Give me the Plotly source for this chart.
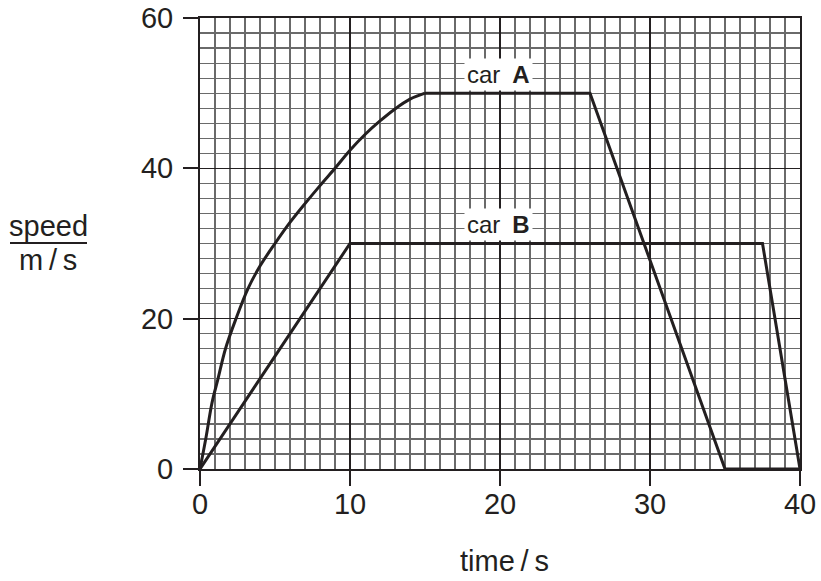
import plotly.graph_objects as go

# Car A: curved acceleration phase
a_curve_t = [0, 0.4, 0.8, 1.2, 1.7, 2.4, 3.2, 4, 5, 6, 7, 8, 9, 10, 11, 12, 13, 14, 15]
a_curve_v = [0, 4.2, 8.8, 12, 16, 20, 24, 27, 30, 32.8, 35.3, 37.7, 40, 42.4, 44.5, 46.3, 47.9, 49.2, 50]
# Car A: straight-line phases
a_line_t = [15, 26, 35, 40]
a_line_v = [50, 50, 0, 0]
# Car B
b_t = [0, 10, 37.5, 40]
b_v = [0, 30, 30, 0]

x_ticks = [0, 10, 20, 30, 40]
y_ticks = [0, 20, 40, 60]

INK = "#231f20"
FONT = "Liberation Sans, Arial, Helvetica, sans-serif"

# plot area target: x 200..800, y 18..469 in the window
L, T, PW, PH = 200, 18, 600, 451
W, H = 821, 581

def px_x(px):
    return (px - L) / PW

def px_y(py):
    return (T + PH - py) / PH

fig = go.Figure()
fig.add_trace(go.Scatter(x=a_curve_t, y=a_curve_v, mode="lines",
                         line=dict(color=INK, width=3, shape="spline", smoothing=1.0),
                         hoverinfo="skip", showlegend=False))
fig.add_trace(go.Scatter(x=a_line_t, y=a_line_v, mode="lines",
                         line=dict(color=INK, width=3),
                         hoverinfo="skip", showlegend=False))
fig.add_trace(go.Scatter(x=b_t, y=b_v, mode="lines",
                         line=dict(color=INK, width=3),
                         hoverinfo="skip", showlegend=False))

axis_common = dict(
    showline=True, linecolor=INK, linewidth=2, mirror=True,
    ticks="outside", ticklen=15, tickwidth=2, tickcolor=INK,
    tickfont=dict(family=FONT, size=29, color=INK),
    showgrid=True, gridcolor=INK, gridwidth=1.6,
    zeroline=False, fixedrange=True, automargin=False,
    tickmode="array", ticklabeloverflow="allow",
)

fig.update_xaxes(range=[0, 40], tickvals=x_ticks, ticktext=[str(v) for v in x_ticks],
                 minor=dict(tickmode="linear", tick0=0, dtick=1, showgrid=True,
                            gridcolor="#6a6a6a", gridwidth=1.2, ticks=""),
                 ticklabelstandoff=-7,
                 **axis_common)
fig.update_yaxes(range=[0, 60], tickvals=y_ticks, ticktext=[str(v) for v in y_ticks],
                 minor=dict(tickmode="linear", tick0=0, dtick=2, showgrid=True,
                            gridcolor="#6a6a6a", gridwidth=1.2, ticks=""),
                 ticklabelstandoff=4,
                 **axis_common)

fig.add_annotation(x=19.9, y=50, yshift=19, xref="x", yref="y", text="car\u2002<b>A</b>",
                   showarrow=False, bgcolor="white", borderpad=2,
                   xanchor="center", yanchor="middle",
                   font=dict(family=FONT, size=24, color=INK))
fig.add_annotation(x=19.9, y=30, yshift=19, xref="x", yref="y", text="car\u2002<b>B</b>",
                   showarrow=False, bgcolor="white", borderpad=2,
                   xanchor="center", yanchor="middle",
                   font=dict(family=FONT, size=24, color=INK))

# axis titles
fig.add_annotation(x=px_x(48), y=px_y(226), xref="paper", yref="paper",
                   text="speed", showarrow=False, xanchor="center", yanchor="middle",
                   font=dict(family=FONT, size=29, color=INK))
fig.add_annotation(x=px_x(48), y=px_y(260), xref="paper", yref="paper",
                   text="m\u2009/\u2009s", showarrow=False, xanchor="center", yanchor="middle",
                   font=dict(family=FONT, size=29, color=INK))
fig.add_shape(type="line", xref="paper", yref="paper",
              x0=px_x(10), x1=px_x(87), y0=px_y(243), y1=px_y(243),
              line=dict(color=INK, width=2))
fig.add_annotation(x=px_x(504), y=px_y(561), xref="paper", yref="paper",
                   text="time\u2009/\u2009s", showarrow=False, xanchor="center", yanchor="middle",
                   font=dict(family=FONT, size=29, color=INK))

fig.update_layout(
    width=W, height=H,
    margin=dict(l=L, r=W - L - PW, t=T, b=H - T - PH),
    paper_bgcolor="white", plot_bgcolor="white",
    showlegend=False,
)

# remove the browser's default 8px body margin so the figure fills the window
fig.write_html("out.html",
               config={"displayModeBar": False, "staticPlot": True},
               post_script="document.body.style.margin='0px';document.body.style.overflow='hidden';")
